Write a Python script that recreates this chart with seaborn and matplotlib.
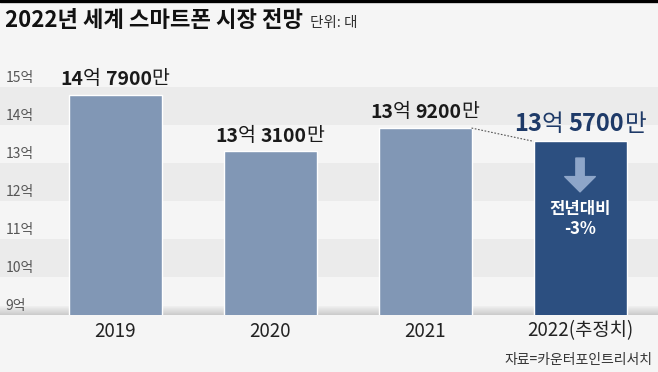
import matplotlib
matplotlib.use('Agg')
import matplotlib.pyplot as plt
from matplotlib.colors import LinearSegmentedColormap
import numpy as np
import seaborn as sns

# 세계 스마트폰 출하량 (억 대)
years = ['2019', '2020', '2021', '2022(추정치)']
shipments = [14.79, 13.31, 13.92, 13.57]
label_eok = ['14', '13', '13', '13']
label_man = ['7900', '3100', '9200', '5700']
yticks = [9, 10, 11, 12, 13, 14, 15]
yoy_lines = ['전년대비', '-3%']

BG = '#f5f5f5'
BAND = '#ebebeb'
LIGHT_BAR = '#8197b5'
DARK_BAR = '#2c4f80'
NAVY = '#1e3a68'

sns.set_style('white')
plt.rcParams['font.family'] = ['Noto Sans CJK KR', 'DejaVu Sans']

fig = plt.figure(figsize=(6.58, 3.72), dpi=100, facecolor=BG)
ax = fig.add_axes([0, 57 / 372, 1, 228 / 372])
ax.set_facecolor(BG)

# alternating background bands
for lo in (14, 12, 10):
    ax.axhspan(lo, lo + 1, color=BAND, lw=0, zorder=0)

# shadow strip at the base
shade = LinearSegmentedColormap.from_list('shade', ['#f0f0f0', '#cbcbcb'])
ax.imshow(np.linspace(0, 1, 40).reshape(-1, 1), extent=[-1, 4, 9, 9.22],
          aspect='auto', cmap=shade, zorder=0.5)

sns.barplot(x=years, y=shipments, hue=years, legend=False, ax=ax,
            palette=[LIGHT_BAR] * 3 + [DARK_BAR], width=0.6, saturation=1,
            zorder=2)

ax.set_xlim(-0.742, 3.503)
ax.set_ylim(9, 15)
ax.set_yticks([])
ax.set_xlabel('')
ax.set_ylabel('')
for s in ax.spines.values():
    s.set_visible(False)
ax.tick_params(axis='x', length=0, pad=4, labelsize=13.5, colors='#222222')

for v in yticks:
    ax.annotate(f'{v}억', xy=(0.008, v), xycoords=('axes fraction', 'data'),
                xytext=(0, 1.5), textcoords='offset points', ha='left',
                va='bottom', fontsize=10, color='#555555')


def value_label(x, y, eok, man, size, color):
    parts = [(eok, 'bold'), ('억 ', 'normal'), (man, 'bold'), ('만', 'normal')]
    texts = [ax.annotate(parts[0][0], xy=(x, y), xytext=(0, 4),
                         textcoords='offset points', ha='left', va='bottom',
                         fontsize=size, weight=parts[0][1], color=color)]
    for s, w in parts[1:]:
        texts.append(ax.annotate(s, xy=(1, 0), xycoords=texts[-1], ha='left',
                                 va='bottom', fontsize=size, weight=w,
                                 color=color))
    return texts


groups = []
for i in range(4):
    last = i == 3
    groups.append(value_label(i, shipments[i], label_eok[i], label_man[i],
                              17 if last else 14,
                              NAVY if last else '#1a1a1a'))

# dotted connector 2021 -> 2022
ax.plot([2.3, 2.7], [shipments[2], shipments[3]], ls=(0, (1.5, 1.5)),
        color='#555555', lw=0.8, zorder=3)

# down arrow + yoy text inside the 2022 bar
ax.annotate('', xy=(3, 12.24), xytext=(3, 13.13),
            arrowprops=dict(arrowstyle='simple,head_length=1.1,head_width=2.2,tail_width=0.6',
                            mutation_scale=10, color='#8ea6c9', shrinkA=0,
                            shrinkB=0), zorder=4)
ax.text(3, 11.8, yoy_lines[0], ha='center', va='center', fontsize=12,
        weight='bold', color='white', zorder=4)
ax.text(3, 11.27, yoy_lines[1], ha='center', va='center', fontsize=12,
        weight='bold', color='white', zorder=4)

# title, unit, source
title = fig.text(0.008, 0.946, '2022년 세계 스마트폰 시장 전망', fontsize=16,
                 weight='bold', va='center', ha='left', color='#111111')
ax.annotate('단위: 대', xy=(1, 0), xycoords=title, xytext=(5, 1),
            textcoords='offset points', ha='left', va='bottom', fontsize=10.5,
            color='#333333', annotation_clip=False)
fig.text(0.991, 0.032, '자료=카운터포인트리서치', ha='right', va='center',
         fontsize=10, color='#333333')
fig.add_artist(plt.Line2D([0, 1], [0.996, 0.996], transform=fig.transFigure,
                          color='black', lw=2.4))

# center the mixed-weight value labels over their bars
fig.canvas.draw()
for texts in groups:
    w = texts[-1].get_window_extent().x1 - texts[0].get_window_extent().x0
    texts[0].xyann = (-w / 2 * 72 / fig.dpi, 4)

fig.savefig('out.png', dpi=100, facecolor=BG)
